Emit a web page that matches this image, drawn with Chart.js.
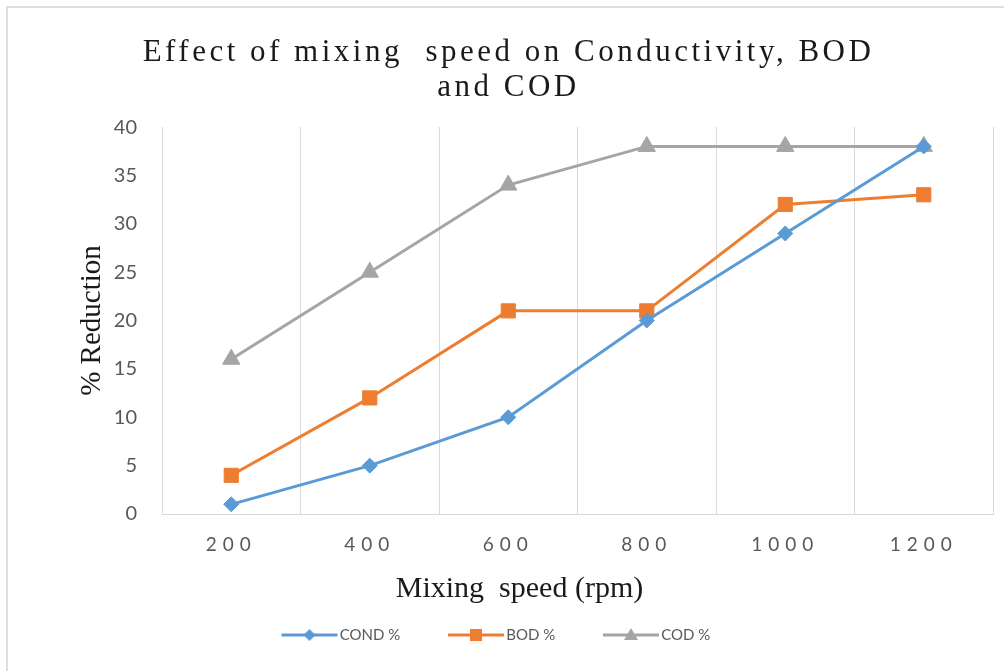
<!DOCTYPE html>
<html>
<head>
<meta charset="utf-8">
<script src="https://cdn.jsdelivr.net/npm/chart.js@4/dist/chart.umd.min.js"></script>
<style>
  html, body { margin: 0; padding: 0; background: #fff; }
  #wrap { position: relative; width: 1004px; height: 671px; }
  #frame { position: absolute; left: 6px; top: 6px; right: 0; bottom: 0; border-top: 2px solid #dedede; border-left: 2px solid #dedede; }
  canvas { position: absolute; left: 0; top: 0; }
</style>
</head>
<body>
<div id="wrap">
  <div id="frame"></div>
  <canvas id="mixChart" width="1004" height="671"></canvas>
</div>
<script>
const speeds = ['200', '400', '600', '800', '1000', '1200'];
const condPct = [1, 5, 10, 20, 29, 38];
const bodPct = [4, 12, 21, 21, 32, 33];
const codPct = [16, 25, 34, 38, 38, 38];
const seriesNames = ['COND %', 'BOD %', 'COD %'];
const yTicks = [0, 5, 10, 15, 20, 25, 30, 35, 40];

const blue = '#5b9bd5', orange = '#ed7d31', grey = '#a5a5a5';

// legend symbol: line with marker, like the spreadsheet legend
// (drawn off-centre so the text sits right after the line)
const legendIcon = (color, shape) => {
    const c = document.createElement('canvas');
    c.width = 84; c.height = 20;
    const g = c.getContext('2d');
    g.strokeStyle = color; g.fillStyle = color; g.lineWidth = 3;
    g.beginPath(); g.moveTo(27, 10); g.lineTo(83, 10); g.stroke();
    const cx = 55, cy = 10;
    g.beginPath();
    if (shape === 'diamond') {
        g.moveTo(cx, cy - 6); g.lineTo(cx + 6, cy); g.lineTo(cx, cy + 6); g.lineTo(cx - 6, cy);
    } else if (shape === 'square') {
        g.rect(cx - 6, cy - 6, 12, 12);
    } else {
        g.moveTo(cx, cy - 7); g.lineTo(cx + 7, cy + 5); g.lineTo(cx - 7, cy + 5);
    }
    g.closePath(); g.fill();
    return c;
};
const icons = [legendIcon(blue, 'diamond'), legendIcon(orange, 'square'), legendIcon(grey, 'triangle')];

// wraps a draw method: letter spacing + small shift
const wrapDraw = (obj, fn, ls, dx = 0, dy = 0) => {
    if (!obj || obj['_ls_' + fn]) return;
    const orig = obj[fn];
    obj[fn] = function (...args) {
        const ctx = this.ctx;
        ctx.save();
        ctx.letterSpacing = ls;
        ctx.translate(dx, dy);
        orig.apply(this, args);
        ctx.restore();
    };
    obj['_ls_' + fn] = true;
};
const spacingPlugin = {
    id: 'spacing',
    afterLayout(chart) {
        wrapDraw(chart.titleBlock, 'draw', '3.5px', 12, 0);
        wrapDraw(chart.scales.x, 'drawLabels', '6px');
        wrapDraw(chart.scales.x, 'drawTitle', '0px', -58, 0);
        wrapDraw(chart.legend, 'draw', '0px', -11, 0);
    }
};

const lineDs = (label, data, color, style, radius) => ({
    label, data,
    borderColor: color,
    backgroundColor: color,
    borderWidth: 3,
    pointStyle: style,
    pointRadius: radius,
    pointHoverRadius: radius,
    pointBackgroundColor: color,
    pointBorderColor: color,
    pointBorderWidth: 1,
    tension: 0
});

new Chart(document.getElementById('mixChart'), {
    type: 'line',
    data: {
        labels: speeds,
        datasets: [
            lineDs(seriesNames[0], condPct, blue, 'rectRot', 7.5),
            lineDs(seriesNames[1], bodPct, orange, 'rect', 10),
            lineDs(seriesNames[2], codPct, grey, 'triangle', 10)
        ]
    },
    plugins: [spacingPlugin],
    options: {
        responsive: false,
        animation: false,
        layout: { padding: { top: 0, right: 11, bottom: 18.5, left: 0 } },
        plugins: {
            title: {
                display: true,
                text: ['Effect of mixing  speed on Conductivity, BOD', 'and COD'],
                color: '#1a1a1a',
                font: { family: '"Liberation Serif", serif', size: 31, weight: 'normal', lineHeight: 1.13 },
                padding: { top: 35, bottom: 22 }
            },
            legend: {
                position: 'bottom',
                labels: {
                    usePointStyle: true,
                    pointStyleWidth: 71.5,
                    padding: 27,
                    color: '#595959',
                    font: { family: 'Lato', size: 15 },
                    generateLabels: (chart) => chart.data.datasets.map((ds, i) => ({
                        text: ds.label,
                        pointStyle: icons[i],
                        fillStyle: 'transparent',
                        strokeStyle: 'transparent',
                        lineWidth: 0,
                        hidden: false,
                        datasetIndex: i,
                        fontColor: '#595959'
                    }))
                }
            },
            tooltip: { enabled: false }
        },
        scales: {
            x: {
                offset: true,
                afterFit: (s) => { s.height = 86.5; },
                grid: {
                    offset: true,
                    drawTicks: false,
                    color: (c) => (c.index === speeds.length ? 'rgba(0,0,0,0)' : '#d9d9d9')
                },
                border: { display: true, color: '#d9d9d9' },
                ticks: { padding: 19.5, color: '#595959', font: { family: 'Lato', size: 19 } },
                title: {
                    display: true,
                    text: 'Mixing  speed (rpm)',
                    color: '#1a1a1a',
                    font: { family: '"Liberation Serif", serif', size: 30, lineHeight: 0.6 },
                    padding: { top: 10, bottom: 2 }
                }
            },
            y: {
                min: 0,
                max: 40,
                afterFit: (s) => { s.width = 162; },
                afterBuildTicks: (axis) => { axis.ticks = yTicks.map(v => ({ value: v })); },
                grid: { display: false, drawTicks: false },
                border: { display: false },
                ticks: { padding: 25, color: '#595959', font: { family: 'Lato', size: 20 } },
                title: {
                    display: true,
                    text: '% Reduction',
                    color: '#1a1a1a',
                    font: { family: '"Liberation Serif", serif', size: 29 },
                    padding: { top: 74.5, bottom: 8 }
                }
            }
        }
    }
});
</script>
</body>
</html>
